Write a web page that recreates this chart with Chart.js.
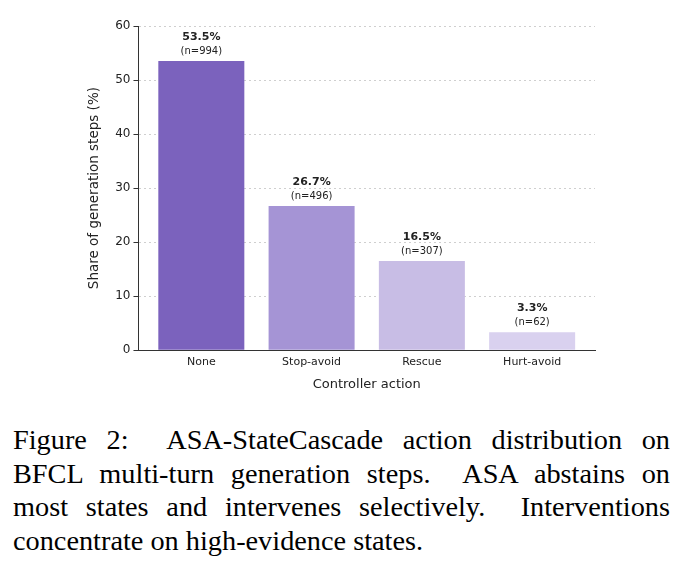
<!DOCTYPE html>
<html>
<head>
<meta charset="utf-8">
<script src="https://cdn.jsdelivr.net/npm/chart.js@4/dist/chart.umd.min.js"></script>
<style>
  html, body { margin: 0; padding: 0; background: #fff; width: 686px; height: 583px; overflow: hidden; }
  #wrap { position: absolute; left: 0; top: 0; width: 686px; height: 400px; }
  #caption {
    position: absolute; left: 13px; top: 423px; width: 657px;
    font-family: "Liberation Serif", "Times New Roman", serif;
    font-size: 28.3px; line-height: 33.6px; color: #000;
  }
  #caption .j { text-align: justify; text-align-last: justify; }
  #caption .l { text-align: left; white-space: nowrap; }
</style>
</head>
<body>
<div id="wrap"><canvas id="c" width="686" height="400"></canvas></div>
<div id="caption">
  <div class="j">Figure 2:&nbsp; ASA-StateCascade action distribution on</div>
  <div class="j">BFCL multi-turn generation steps.&nbsp; ASA abstains on</div>
  <div class="j">most states and intervenes selectively.&nbsp; Interventions</div>
  <div class="l">concentrate on high-evidence states.</div>
</div>
<script>
const categories = ["None", "Stop-avoid", "Rescue", "Hurt-avoid"];
const shares = [53.5, 26.7, 16.5, 3.3];
const counts = [994, 496, 307, 62];
const barColors = ["#7b62bd", "#a594d5", "#c8bde5", "#d9d1ef"];
const yTicks = [0, 10, 20, 30, 40, 50, 60];

const FONT = "'DejaVu Sans', sans-serif";

const labelPlugin = {
  id: 'barLabels',
  afterDatasetsDraw(chart) {
    const ctx = chart.ctx;
    const meta = chart.getDatasetMeta(0);
    ctx.save();
    ctx.textAlign = 'center';
    ctx.textBaseline = 'middle';
    ctx.fillStyle = '#222';
    meta.data.forEach((bar, i) => {
      ctx.font = "bold 11px " + FONT;
      ctx.fillText(shares[i].toFixed(1) + "%", bar.x, bar.y - 24);
      ctx.font = "10px " + FONT;
      ctx.fillText("(n=" + counts[i] + ")", bar.x, bar.y - 10);
    });
    ctx.restore();
  }
};

new Chart(document.getElementById('c'), {
  type: 'bar',
  data: {
    datasets: [{
      data: categories.map((c, i) => ({ x: i, y: shares[i] })),
      backgroundColor: barColors,
      borderWidth: 0,
      barPercentage: 0.78,
      categoryPercentage: 1.0
    }]
  },
  plugins: [labelPlugin],
  options: {
    responsive: false,
    animation: false,
    layout: { padding: { left: 86, right: 91, top: 26, bottom: 8 } },
    plugins: { legend: { display: false }, tooltip: { enabled: false } },
    scales: {
      x: {
        type: 'linear',
        offset: false,
        min: -0.57, max: 3.57,
        afterBuildTicks(axis) { axis.ticks = categories.map((c, i) => ({ value: i })); },
        ticks: {
          callback: (v) => categories[v],
          font: { family: FONT, size: 11 },
          color: '#222',
          padding: 5
        },
        grid: { display: false, drawTicks: false },
        border: { display: true, color: '#333', width: 1 },
        title: { display: true, text: 'Controller action', font: { family: FONT, size: 13 }, color: '#222', padding: { top: 3, bottom: 0 } }
      },
      y: {
        min: 0, max: 60,
        afterBuildTicks(axis) { axis.ticks = yTicks.map(v => ({ value: v })); },
        ticks: { font: { family: FONT, size: 12 }, color: '#222', padding: 3 },
        grid: {
          color: (c) => (c.tick && c.tick.value === 0) ? 'rgba(0,0,0,0)' : '#cfcfcf',
          lineWidth: 1,
          drawTicks: true,
          tickLength: 5,
          tickColor: '#333',
          tickBorderDash: [],
          tickWidth: 1
        },
        border: { display: true, color: '#333', width: 1, dash: [2, 3] },
        title: { display: true, text: 'Share of generation steps (%)', font: { family: FONT, size: 13.5 }, color: '#222', padding: { top: 0, bottom: 10 } }
      }
    }
  },
});
</script>
</body>
</html>
